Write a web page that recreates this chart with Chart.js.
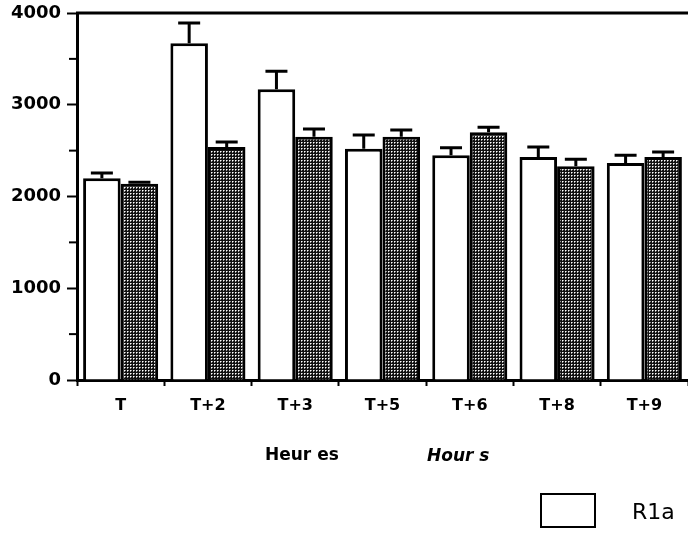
<!DOCTYPE html>
<html>
<head>
<meta charset="utf-8">
<script src="https://cdn.jsdelivr.net/npm/chart.js@4.4.0/dist/chart.umd.min.js"></script>
<style>
  body { margin: 0; background: #fff; }
</style>
</head>
<body>
<canvas id="bar" width="688" height="533"></canvas>
<script>
// chart data
var categories = ["T", "T+2", "T+3", "T+5", "T+6", "T+8", "T+9"];
var r1aValues = [2200, 3670, 3170, 2520, 2450, 2430, 2365];
var r1aErrors = [55, 220, 195, 150, 80, 110, 85];
var r1bValues = [2140, 2540, 2650, 2650, 2700, 2330, 2430];
var r1bErrors = [15, 55, 85, 75, 55, 75, 55];
var yMax = 4000;
var yStep = 500;

// dotted fill for the dark bars
function makeDots() {
  var c = document.createElement("canvas");
  c.width = 3;
  c.height = 3;
  var g = c.getContext("2d");
  g.fillStyle = "#111";
  g.fillRect(0, 0, 3, 3);
  g.fillStyle = "#fff";
  g.fillRect(1, 1, 1, 1);
  g.fillStyle = "#999";
  g.fillRect(2, 1, 1, 1);
  g.fillRect(1, 2, 1, 1);
  return g.createPattern(c, "repeat");
}

// upward error bars with a cap
var errorBars = {
  id: "errorBars",
  afterDatasetsDraw: function (chart) {
    var ctx = chart.ctx;
    var yScale = chart.scales.y;
    ctx.save();
    ctx.strokeStyle = "#000";
    ctx.lineWidth = 3;
    chart.data.datasets.forEach(function (ds, d) {
      var meta = chart.getDatasetMeta(d);
      meta.data.forEach(function (bar, i) {
        var top = yScale.getPixelForValue(ds.data[i] + ds.errors[i]);
        ctx.beginPath();
        ctx.moveTo(bar.x, bar.y);
        ctx.lineTo(bar.x, top);
        ctx.moveTo(bar.x - 11, top);
        ctx.lineTo(bar.x + 11, top);
        ctx.stroke();
      });
    });
    ctx.restore();
  }
};

// frame top, minor y ticks, axis title and legend
var extras = {
  id: "extras",
  afterDraw: function (chart) {
    var ctx = chart.ctx;
    var area = chart.chartArea;
    var yScale = chart.scales.y;
    ctx.save();
    ctx.strokeStyle = "#000";
    ctx.lineWidth = 3;
    ctx.beginPath();
    ctx.moveTo(area.left - 1, area.top);
    ctx.lineTo(area.right, area.top);
    ctx.stroke();

    // minor ticks, a little shorter
    ctx.lineWidth = 2;
    yScale.ticks.forEach(function (t) {
      if (t.value % 1000 !== 0) {
        var y = yScale.getPixelForValue(t.value);
        ctx.beginPath();
        ctx.moveTo(area.left - 8, y);
        ctx.lineTo(area.left, y);
        ctx.stroke();
      }
    });

    // x axis title, two parts
    ctx.fillStyle = "#000";
    ctx.textBaseline = "alphabetic";
    ctx.font = "bold 17px 'DejaVu Sans', sans-serif";
    ctx.fillText("Heur es", 265, 460);
    ctx.font = "italic bold 17px 'DejaVu Sans', sans-serif";
    ctx.fillText("Hour s", 427, 461);

    // legend, first series only
    var ds = chart.data.datasets[0];
    ctx.lineWidth = 2;
    ctx.fillStyle = ds.backgroundColor;
    ctx.fillRect(541, 494, 54, 33);
    ctx.strokeRect(541, 494, 54, 33);
    ctx.fillStyle = "#000";
    ctx.font = "22px 'DejaVu Sans', sans-serif";
    ctx.fillText(ds.label, 632, 519);
    ctx.restore();
  }
};

var ctx = document.getElementById("bar").getContext("2d");

var chart = new Chart(ctx, {
  type: "bar",
  data: {
    labels: categories,
    datasets: [
      {
        label: "R1a",
        data: r1aValues,
        errors: r1aErrors,
        backgroundColor: "#fff",
        borderColor: "#000",
        borderWidth: 3
      },
      {
        label: "R1b",
        data: r1bValues,
        errors: r1bErrors,
        backgroundColor: makeDots(),
        borderColor: "#000",
        borderWidth: 3
      }
    ]
  },
  options: {
    responsive: false,
    animation: false,
    devicePixelRatio: 1,
    layout: { padding: { top: 13, left: 0, right: 0, bottom: 0 } },
    datasets: {
      bar: { categoryPercentage: 0.86, barPercentage: 1.0 }
    },
    plugins: {
      legend: { display: false },
      tooltip: { enabled: false }
    },
    scales: {
      x: {
        afterFit: function (scale) { scale.height = 153; },
        grid: {
          drawOnChartArea: false,
          tickLength: 6,
          tickColor: "#000",
          tickWidth: 2
        },
        border: { display: true, color: "#000", width: 3 },
        ticks: {
          color: "#000",
          padding: 10,
          font: { family: "'DejaVu Sans', sans-serif", size: 16, weight: "bold" }
        }
      },
      y: {
        min: 0,
        max: yMax,
        afterFit: function (scale) {
          scale.width = 77;
          scale.paddingTop = 0;
          scale.paddingBottom = 0;
        },
        grid: {
          drawOnChartArea: false,
          tickLength: 10,
          tickWidth: 2,
          tickColor: function (c) {
            return c.tick && c.tick.value % 1000 === 0 ? "#000" : "rgba(0,0,0,0)";
          }
        },
        border: { display: true, color: "#000", width: 3 },
        ticks: {
          stepSize: yStep,
          color: "#000",
          padding: 6,
          font: { family: "'DejaVu Sans', sans-serif", size: 18, weight: "bold", lineHeight: 1 },
          callback: function (v) { return v % 1000 === 0 ? v : ""; }
        }
      }
    }
  },
  plugins: [errorBars, extras]
});
</script>
</body>
</html>
